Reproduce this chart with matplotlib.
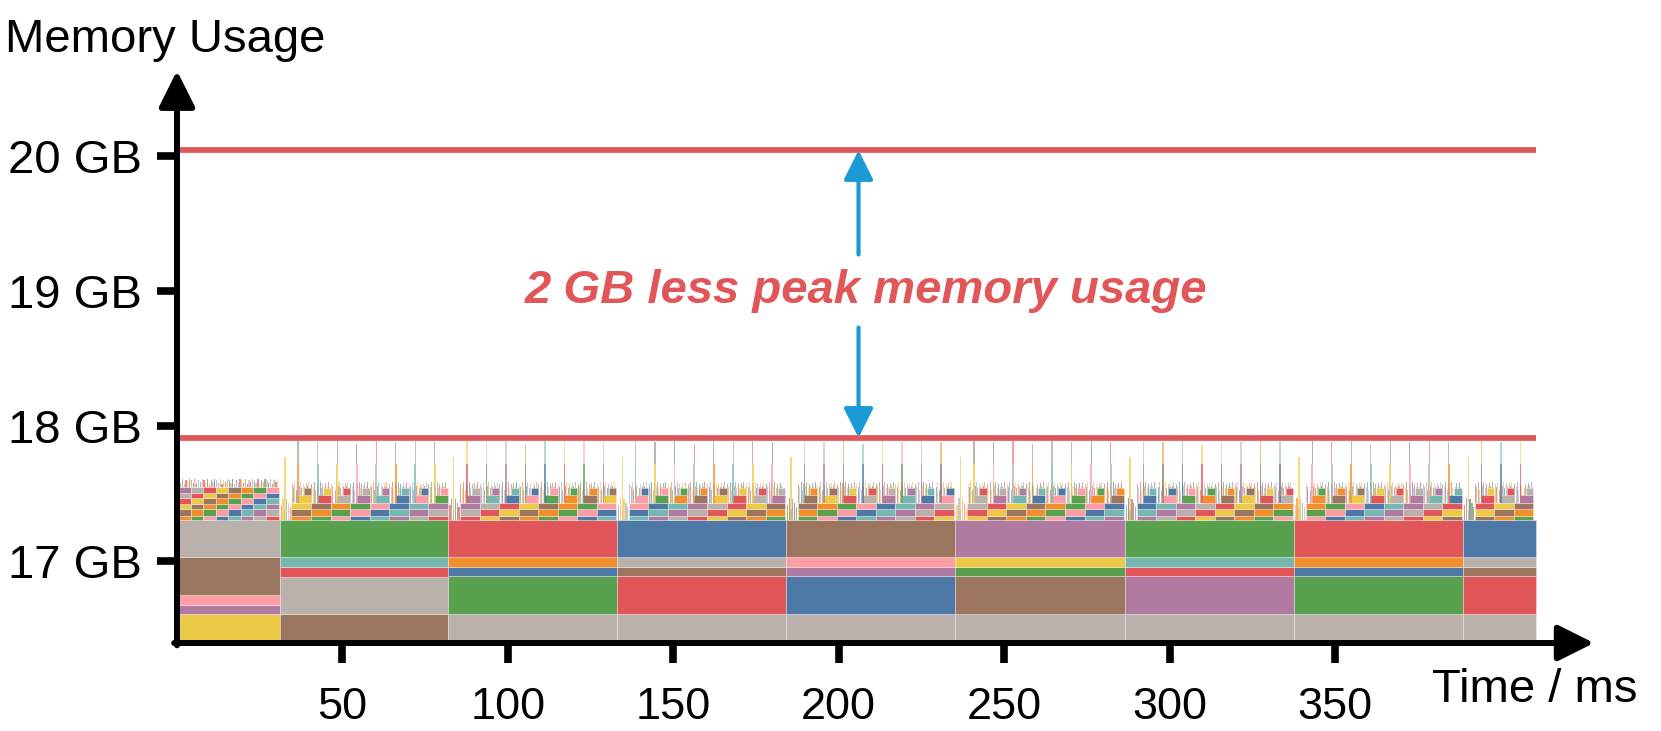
import matplotlib
matplotlib.use("Agg")
import matplotlib.pyplot as plt

plt.rcParams["font.family"] = ["Liberation Sans", "DejaVu Sans"]

# tableau-10 colours used by the memory viewer
PAL = {
    "blue": "#4e79a7", "orange": "#f28e2b", "red": "#e15759", "teal": "#76b7b2",
    "green": "#59a14f", "yellow": "#edc948", "purple": "#b07aa1", "pink": "#ff9da7",
    "brown": "#9c755f", "grey": "#bab0ac",
}
SMALL_ORDER = ["blue", "orange", "red", "teal", "green", "yellow", "purple", "pink", "brown", "grey"]

# iteration boundaries (ms)
SEG_EDGES = [0, 31, 82, 133, 184, 235.3, 286.5, 337.5, 388.7, 410.8]
BASE_START = 16.42  # GB

# long-lived allocations per iteration, bottom -> top (GB)
BASE_HEIGHTS = [
    [0.192, 0.067, 0.074, 0.278, 0.277],
    [0.192, 0.276, 0.070, 0.074, 0.276],
    [0.192, 0.281, 0.069, 0.070, 0.276],
    [0.192, 0.281, 0.069, 0.070, 0.276],
    [0.192, 0.281, 0.069, 0.070, 0.276],
    [0.192, 0.281, 0.069, 0.070, 0.276],
    [0.192, 0.281, 0.069, 0.070, 0.276],
    [0.192, 0.281, 0.069, 0.070, 0.276],
    [0.192, 0.281, 0.069, 0.070, 0.276],
]
BASE_COLORS = [
    ["yellow", "purple", "pink", "brown", "grey"],
    ["brown", "grey", "red", "teal", "green"],
    ["grey", "green", "blue", "orange", "red"],
    ["grey", "red", "brown", "grey", "blue"],
    ["grey", "blue", "purple", "pink", "brown"],
    ["grey", "brown", "green", "yellow", "purple"],
    ["grey", "purple", "red", "teal", "green"],
    ["grey", "green", "blue", "orange", "red"],
    ["grey", "red", "brown", "grey", "blue"],
]

# first iteration: checkered short-lived rows
SEG0_COLS = 8
SEG0_COL_W = 3.8
SEG0_ROWS = [0.028, 0.052, 0.040, 0.040, 0.035, 0.050]
SEG0_FRINGE = [17.60, 17.58, 17.61, 17.57, 17.60, 17.59, 17.61]

# later iterations: ramp + 8 micro-steps
RAMP_W = 3.6
STEP_W = 5.9
STEPS_PER_SEG = [8, 8, 8, 8, 8, 8, 8, 3]
STEP_ROWS = [0.030, 0.052, 0.040]
STAIR_ROWS = [0.060, 0.055]          # partial-width blocks on the right of each step
STAIR_FROM = [0.30, 0.62]            # fraction of step where the block starts
FRINGE = [17.57, 17.55, 17.59, 17.53, 17.58, 17.56, 17.59, 17.54, 17.57, 17.55,
          17.58, 17.56, 17.59, 17.54]
SPIKE_TOPS = [17.89, 17.88, 17.89, 17.87, 17.89, 17.88, 17.89, 17.88]
RAMP_SPIKE = 17.77
RAMP_SLIVERS = [17.42, 17.47, 17.38, 17.46, 17.43, 17.40]

PEAK_OLD = 20.042
PEAK_NEW = 17.915
X_END = 410.8

fig = plt.figure(figsize=(16.61, 7.31), dpi=100)
ax = fig.add_axes([177 / 1661, 1 - 643 / 731, (1594 - 177) / 1661, (643 - 70.7) / 731])
ax.set_xlim(0, 428.3)
ax.set_ylim(16.397, 20.63)

EDGE = dict(edgecolor=(1, 1, 1, 0.45), linewidth=0.5)

# long-lived blocks
for i in range(len(SEG_EDGES) - 1):
    x0, x1 = SEG_EDGES[i], SEG_EDGES[i + 1]
    bottom = BASE_START
    for h, c in zip(BASE_HEIGHTS[i], BASE_COLORS[i]):
        ax.bar(x0, h, width=x1 - x0, bottom=bottom, align="edge", color=PAL[c], **EDGE)
        bottom += h
base_top = BASE_START + sum(BASE_HEIGHTS[0])

# iteration 0
for j in range(SEG0_COLS):
    x0 = 0.3 + j * SEG0_COL_W
    bottom = base_top
    for r, h in enumerate(SEG0_ROWS):
        c = SMALL_ORDER[(j * 3 + r * 7 + 1) % 10]
        ax.bar(x0, h, width=SEG0_COL_W, bottom=bottom, align="edge", color=PAL[c], **EDGE)
        bottom += h
    n = len(SEG0_FRINGE)
    for k, top in enumerate(SEG0_FRINGE):
        c = SMALL_ORDER[(j + k * 3) % 10]
        ax.bar(x0 + (k + 0.15) * SEG0_COL_W / n, top - bottom, width=SEG0_COL_W / n * 0.7,
               bottom=bottom, align="edge", color=PAL[c], alpha=0.7, linewidth=0)

# iterations 1..8
for i in range(1, len(SEG_EDGES) - 1):
    s0 = SEG_EDGES[i]
    # ramp at iteration start
    n = len(RAMP_SLIVERS)
    for k, top in enumerate(RAMP_SLIVERS):
        c = SMALL_ORDER[(i + k * 4) % 10]
        ax.bar(s0 + 0.3 + k * (RAMP_W - 0.3) / n, top - base_top, width=(RAMP_W - 0.3) / n * 0.7,
               bottom=base_top, align="edge", color=PAL[c], alpha=0.7, linewidth=0)
    ax.bar(s0 + 1.4, RAMP_SPIKE - base_top, width=0.4, bottom=base_top, align="edge",
           color=PAL["yellow"], alpha=0.7, linewidth=0)
    for j in range(STEPS_PER_SEG[i - 1]):
        x0 = s0 + RAMP_W + j * STEP_W
        bottom = base_top
        for r, h in enumerate(STEP_ROWS):
            c = SMALL_ORDER[(j * 3 + r * 7 + i) % 10]
            ax.bar(x0, h, width=STEP_W, bottom=bottom, align="edge", color=PAL[c], **EDGE)
            bottom += h
        for r, (h, f) in enumerate(zip(STAIR_ROWS, STAIR_FROM)):
            c = SMALL_ORDER[(j * 7 + r * 3 + i + 4) % 10]
            ax.bar(x0 + f * STEP_W, h, width=(1 - f) * STEP_W, bottom=bottom, align="edge",
                   color=PAL[c], **EDGE)
            bottom += h
        fb = base_top + sum(STEP_ROWS)
        n = len(FRINGE)
        for k, top in enumerate(FRINGE):
            c = SMALL_ORDER[(j + k * 3 + i) % 10]
            ax.bar(x0 + (k + 0.15) * STEP_W / n, top - fb, width=STEP_W / n * 0.7, bottom=fb,
                   align="edge", color=PAL[c], alpha=0.6, linewidth=0, zorder=0.9)
        # transient spike
        sx = x0 + 0.3 * STEP_W
        ax.bar(sx, 17.72 - fb, width=0.5, bottom=fb, align="edge",
               color=PAL[SMALL_ORDER[(j * 2 + i) % 10]], alpha=0.75, linewidth=0)
        ax.bar(sx + 0.05, SPIKE_TOPS[j] - 17.72, width=0.4, bottom=17.72, align="edge",
               color=PAL[SMALL_ORDER[(j * 2 + i + 3) % 10]], alpha=0.55, linewidth=0)

# peak lines
ax.plot([0, X_END], [PEAK_OLD, PEAK_OLD], color="#e15759", lw=4.1, solid_capstyle="butt")
ax.plot([0, X_END], [PEAK_NEW, PEAK_NEW], color="#e15759", lw=4.1, solid_capstyle="butt")

# difference arrows + label
ARROW_X = 206
arr = dict(arrowstyle="-|>,head_length=0.9,head_width=0.45", color="#1b9ad6", lw=3.0,
           shrinkA=0, shrinkB=0, mutation_scale=20)
ax.annotate("", xy=(ARROW_X, PEAK_OLD), xytext=(ARROW_X, 19.27), arrowprops=arr)
ax.annotate("", xy=(ARROW_X, PEAK_NEW), xytext=(ARROW_X, 18.73), arrowprops=arr)
ax.text(208.3, 19.0, "2 GB less peak memory usage", color="#e15759", fontsize=34,
        fontweight="bold", fontstyle="italic", ha="center", va="center")

# axes with arrow heads
for s in ax.spines.values():
    s.set_visible(False)
axis_arr = dict(arrowstyle="-|>,head_length=1.1,head_width=0.55", color="black", lw=4.3,
                shrinkA=0, shrinkB=0, mutation_scale=20)
ax.annotate("", xy=(1, 0), xytext=(-0.002, 0), xycoords="axes fraction", arrowprops=axis_arr,
            annotation_clip=False)
ax.annotate("", xy=(0, 1), xytext=(0, -0.004), xycoords="axes fraction", arrowprops=axis_arr,
            annotation_clip=False)

X_TICKS = [50, 100, 150, 200, 250, 300, 350]
Y_TICKS = [17, 18, 19, 20]
ax.set_xticks(X_TICKS)
ax.set_xticklabels([str(t) for t in X_TICKS])
ax.set_yticks(Y_TICKS)
ax.set_yticklabels([f"{t} GB" for t in Y_TICKS])
ax.tick_params(axis="both", length=14.4, width=5.5, color="black")
ax.tick_params(axis="x", pad=17, labelsize=32.5)
ax.tick_params(axis="y", pad=10.8, labelsize=34)

fig.text(5 / 1661, 1 - 52 / 731, "Memory Usage", fontsize=34, ha="left", va="baseline")
fig.text(1637 / 1661, 1 - 702 / 731, "Time / ms", fontsize=34, ha="right", va="baseline")

fig.savefig("out.png", dpi=100)
